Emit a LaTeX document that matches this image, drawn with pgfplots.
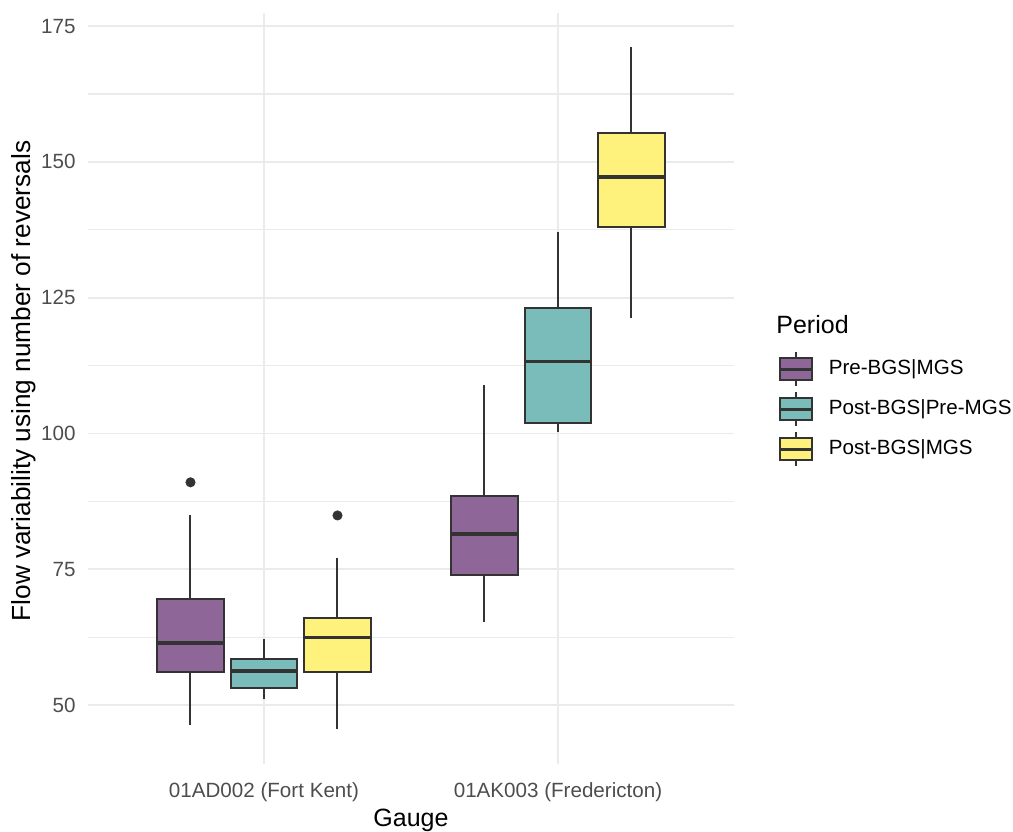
\documentclass[border=0pt]{standalone}
\usepackage{fontspec}
\setmainfont{Liberation Sans}
\usepackage{pgfplots}
\pgfplotsset{compat=1.18}
\definecolor{vpurple}{HTML}{8F6698}
\definecolor{vteal}{HTML}{7ABCBA}
\definecolor{vyellow}{HTML}{FEF17C}
\definecolor{c333}{HTML}{333333}
\definecolor{gridc}{HTML}{EBEBEB}
\definecolor{tickc}{HTML}{4D4D4D}
\newcommand\boxglyph[1]{%
 \path[draw=none,fill=none] (0pt,-10pt) rectangle (24.5pt,10pt);
 \draw[c333,line width=0.9pt] (8.1pt,5.4pt)--(8.1pt,8.35pt) (8.1pt,-5.4pt)--(8.1pt,-8.35pt);
 \draw[c333,fill=#1,line width=0.9pt] (0pt,-5.4pt) rectangle (16.2pt,5.4pt);
 \draw[c333,line width=1.5pt] (0pt,0pt)--(16.2pt,0pt);}
\pgfplotsset{
  wsk/.style={c333, line width=1.0pt, forget plot, mark=none},
  bxs/.style={draw=c333, fill=#1, line width=1.0pt, forget plot, mark=none},
  med/.style={c333, line width=1.7pt, forget plot, mark=none},
}
\begin{document}
\begin{tikzpicture}
\begin{axis}[
 scale only axis, width=323.4pt, height=375.35pt,
 xmin=0.4, xmax=2.6, ymin=39.2, ymax=177.4,
 axis line style={draw=none}, major tick length=0pt, minor tick length=0pt,
 xtick={1,2}, xticklabels={01AD002 (Fort Kent),01AK003 (Fredericton)},
 ytick={50,75,100,125,150,175}, minor ytick={62.5,87.5,112.5,137.5,162.5},
 xmajorgrids, ymajorgrids, yminorgrids,
 major grid style={gridc, line width=0.9pt},
 minor grid style={gridc, line width=0.6pt},
 tick label style={font=\fontsize{10.3pt}{12pt}\selectfont, text=tickc},
 /pgf/number format/assume math mode=true,
 xticklabel style={anchor=north, inner sep=0pt, yshift=-9.15pt},
 yticklabel style={anchor=east, inner sep=0pt, xshift=-5.8pt},
 label style={font=\fontsize{12.5pt}{15pt}\selectfont, inner sep=0pt},
 xlabel={Gauge}, ylabel={Flow variability using number of reversals},
 xlabel style={at={(axis description cs:0.5,-0.08299)}, anchor=base},
 ylabel style={font=\fontsize{13.1pt}{15pt}\selectfont, at={(axis description cs:-0.08797,0.5098)}, anchor=base},
 legend style={at={(1.0679,0.5524)}, anchor=north west, draw=none, fill=none,
   inner sep=0pt, outer sep=0pt, row sep=0pt,
   font=\fontsize{10.3pt}{12pt}\selectfont, cells={anchor=west}, nodes={inner sep=0pt}},
 legend cell align=left,
]
\coordinate (p0) at (rel axis cs:0,0);
\addlegendimage{legend image code/.code={\boxglyph{vpurple}}}
\addlegendentry{Pre-BGS|MGS}
\addlegendimage{legend image code/.code={\boxglyph{vteal}}}
\addlegendentry{Post-BGS|Pre-MGS}
\addlegendimage{legend image code/.code={\boxglyph{vyellow}}}
\addlegendentry{Post-BGS|MGS}
% ---- whiskers (position, lower whisker -> Q1, Q3 -> upper whisker)
% 01AD002 (Fort Kent)
\addplot[wsk] coordinates {(0.75,46.3) (0.75,56.1)};
\addplot[wsk] coordinates {(0.75,69.5) (0.75,84.9)};
\addplot[wsk] coordinates {(1.00,51.2) (1.00,53.2)};
\addplot[wsk] coordinates {(1.00,58.5) (1.00,62.2)};
\addplot[wsk] coordinates {(1.25,45.5) (1.25,56.1)};
\addplot[wsk] coordinates {(1.25,66.0) (1.25,77.0)};
% 01AK003 (Fredericton)
\addplot[wsk] coordinates {(1.75,65.2) (1.75,74.0)};
\addplot[wsk] coordinates {(1.75,88.4) (1.75,109.0)};
\addplot[wsk] coordinates {(2.00,100.2) (2.00,101.9)};
\addplot[wsk] coordinates {(2.00,123.0) (2.00,137.1)};
\addplot[wsk] coordinates {(2.25,121.25) (2.25,138.0)};
\addplot[wsk] coordinates {(2.25,155.3) (2.25,171.1)};
% ---- boxes (Q1 to Q3, width 0.227)
\addplot[bxs=vpurple] coordinates {(0.6365,56.1) (0.8635,56.1) (0.8635,69.5) (0.6365,69.5)} --cycle;
\addplot[bxs=vteal]   coordinates {(0.8865,53.2) (1.1135,53.2) (1.1135,58.5) (0.8865,58.5)} --cycle;
\addplot[bxs=vyellow] coordinates {(1.1365,56.1) (1.3635,56.1) (1.3635,66.0) (1.1365,66.0)} --cycle;
\addplot[bxs=vpurple] coordinates {(1.6365,74.0) (1.8635,74.0) (1.8635,88.4) (1.6365,88.4)} --cycle;
\addplot[bxs=vteal]   coordinates {(1.8865,101.9) (2.1135,101.9) (2.1135,123.0) (1.8865,123.0)} --cycle;
\addplot[bxs=vyellow] coordinates {(2.1365,138.0) (2.3635,138.0) (2.3635,155.3) (2.1365,155.3)} --cycle;
% ---- medians
\addplot[med] coordinates {(0.6365,61.4) (0.8635,61.4)};
\addplot[med] coordinates {(0.8865,56.25) (1.1135,56.25)};
\addplot[med] coordinates {(1.1365,62.4) (1.3635,62.4)};
\addplot[med] coordinates {(1.6365,81.5) (1.8635,81.5)};
\addplot[med] coordinates {(1.8865,113.2) (2.1135,113.2)};
\addplot[med] coordinates {(2.1365,147.2) (2.3635,147.2)};
% ---- outliers
\addplot[only marks, mark=*, mark size=2.3pt, color=c333, forget plot] coordinates {(0.75,91.0) (1.25,84.9)};
\end{axis}
\node[anchor=base west, inner sep=0pt, font=\fontsize{12.5pt}{15pt}\selectfont] at ([shift={(344.2pt,214.85pt)}]p0) {Period};
\pgfresetboundingbox
\path ([shift={(-43.8pt,-33.65pt)}]p0) rectangle ([shift={(462.7pt,381.85pt)}]p0);
\end{tikzpicture}
\end{document}
